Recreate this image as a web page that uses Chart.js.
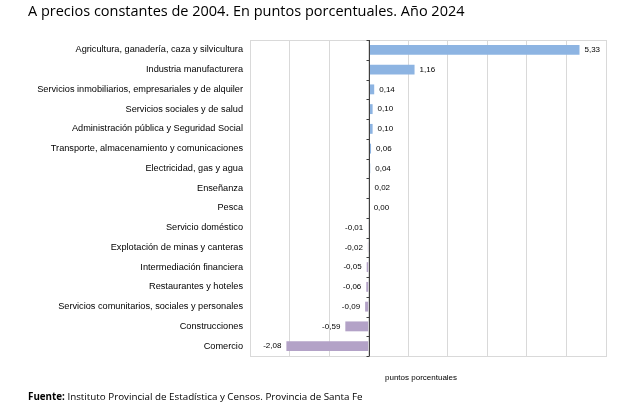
<!DOCTYPE html>
<html>
<head>
<meta charset="utf-8">
<script src="https://cdn.jsdelivr.net/npm/chart.js@4.4.1/dist/chart.umd.min.js"></script>
<style>
  html, body { margin: 0; padding: 0; background: #fff; }
  #wrap { position: relative; width: 642px; height: 415px; }
  #myChart { position: absolute; left: 0; top: 0; }
  .titulo { position: absolute; left: 28px; top: 1px; font-family: "Open Sans", sans-serif; font-size: 14.5px; color: #000; white-space: nowrap; }
  .unidad { position: absolute; left: 385px; top: 373px; font-family: "Liberation Sans", Arial, sans-serif; font-size: 8px; color: #000; }
  .fuente { position: absolute; left: 28px; top: 390px; font-family: "Open Sans", sans-serif; font-size: 9.8px; color: #000; white-space: nowrap; }
</style>
</head>
<body>
<div id="wrap">
  <canvas id="myChart" width="642" height="415"></canvas>
  <div class="titulo">A precios constantes de 2004. En puntos porcentuales. Año 2024</div>
  <div class="unidad">puntos porcentuales</div>
  <div class="fuente"><b>Fuente:</b> Instituto Provincial de Estadística y Censos. Provincia de Santa Fe</div>
</div>
<script>
// Datos del gráfico
const sectores = [
    'Agricultura, ganadería, caza y silvicultura',
    'Industria manufacturera',
    'Servicios inmobiliarios, empresariales y de alquiler',
    'Servicios sociales y de salud',
    'Administración pública y Seguridad Social',
    'Transporte, almacenamiento y comunicaciones',
    'Electricidad, gas y agua',
    'Enseñanza',
    'Pesca',
    'Servicio doméstico',
    'Explotación de minas y canteras',
    'Intermediación financiera',
    'Restaurantes y hoteles',
    'Servicios comunitarios, sociales y personales',
    'Construcciones',
    'Comercio'
];
const aportes = [5.33, 1.16, 0.14, 0.10, 0.10, 0.06, 0.04, 0.02, 0.00, -0.01, -0.02, -0.05, -0.06, -0.09, -0.59, -2.08];
const ejeMin = -3;
const ejeMax = 6;

const azul = '#8db4e2';
const lila = '#b3a2c7';

// Formato con coma decimal
function formatoComa(v) {
    return v.toFixed(2).replace('.', ',');
}

// Marco del área de gráfico y marcas sobre el eje cero
const marcoPlugin = {
    id: 'marco',
    afterDraw(chart) {
        const { ctx, chartArea: a, scales } = chart;
        ctx.save();
        ctx.strokeStyle = '#d9d9d9';
        ctx.lineWidth = 1;
        ctx.strokeRect(a.left + 0.5, a.top + 0.5, a.right - a.left, a.bottom - a.top);
        // eje cero
        const x0 = Math.round(scales.x.getPixelForValue(0)) + 0.5;
        ctx.strokeStyle = '#404040';
        ctx.beginPath();
        ctx.moveTo(x0, a.top);
        ctx.lineTo(x0, a.bottom);
        const n = sectores.length;
        for (let i = 0; i <= n; i++) {
            const y = Math.round(a.top + (a.bottom - a.top) * i / n) + 0.5;
            ctx.moveTo(x0 - 3, y);
            ctx.lineTo(x0, y);
        }
        ctx.stroke();
        ctx.restore();
    }
};

// Etiquetas de valores
const etiquetasPlugin = {
    id: 'etiquetas',
    afterDatasetsDraw(chart) {
        const { ctx } = chart;
        const meta = chart.getDatasetMeta(0);
        ctx.save();
        ctx.font = '8px "Liberation Sans", Arial, sans-serif';
        ctx.fillStyle = '#000';
        ctx.textBaseline = 'middle';
        meta.data.forEach((bar, i) => {
            const v = aportes[i];
            if (v >= 0) {
                ctx.textAlign = 'left';
                ctx.fillText(formatoComa(v), bar.x + 5, bar.y);
            } else {
                ctx.textAlign = 'right';
                ctx.fillText(formatoComa(v), bar.x - 5, bar.y);
            }
        });
        ctx.restore();
    }
};

const ctx = document.getElementById('myChart').getContext('2d');
const myChart = new Chart(ctx, {
    type: 'bar',
    data: {
        labels: sectores,
        datasets: [{
            data: aportes,
            backgroundColor: aportes.map(v => v >= 0 ? azul : lila),
            borderWidth: 0,
            barPercentage: 0.5,
            categoryPercentage: 1
        }]
    },
    options: {
        indexAxis: 'y',
        responsive: false,
        animation: false,
        plugins: {
            legend: { display: false },
            tooltip: { enabled: false }
        },
        layout: {
            padding: { top: 40, right: 36, bottom: 59, left: 0 }
        },
        scales: {
            x: {
                min: ejeMin,
                max: ejeMax,
                ticks: { display: false, stepSize: 1 },
                grid: { color: '#d9d9d9', drawTicks: false },
                border: { display: false }
            },
            y: {
                afterFit(scale) { scale.width = 250; },
                ticks: {
                    color: '#000',
                    padding: 7,
                    font: { family: '"Liberation Sans", Arial, sans-serif', size: 9.2 }
                },
                grid: { display: false, drawTicks: false },
                border: { display: false }
            }
        }
    },
    plugins: [marcoPlugin, etiquetasPlugin]
});
</script>
</body>
</html>
